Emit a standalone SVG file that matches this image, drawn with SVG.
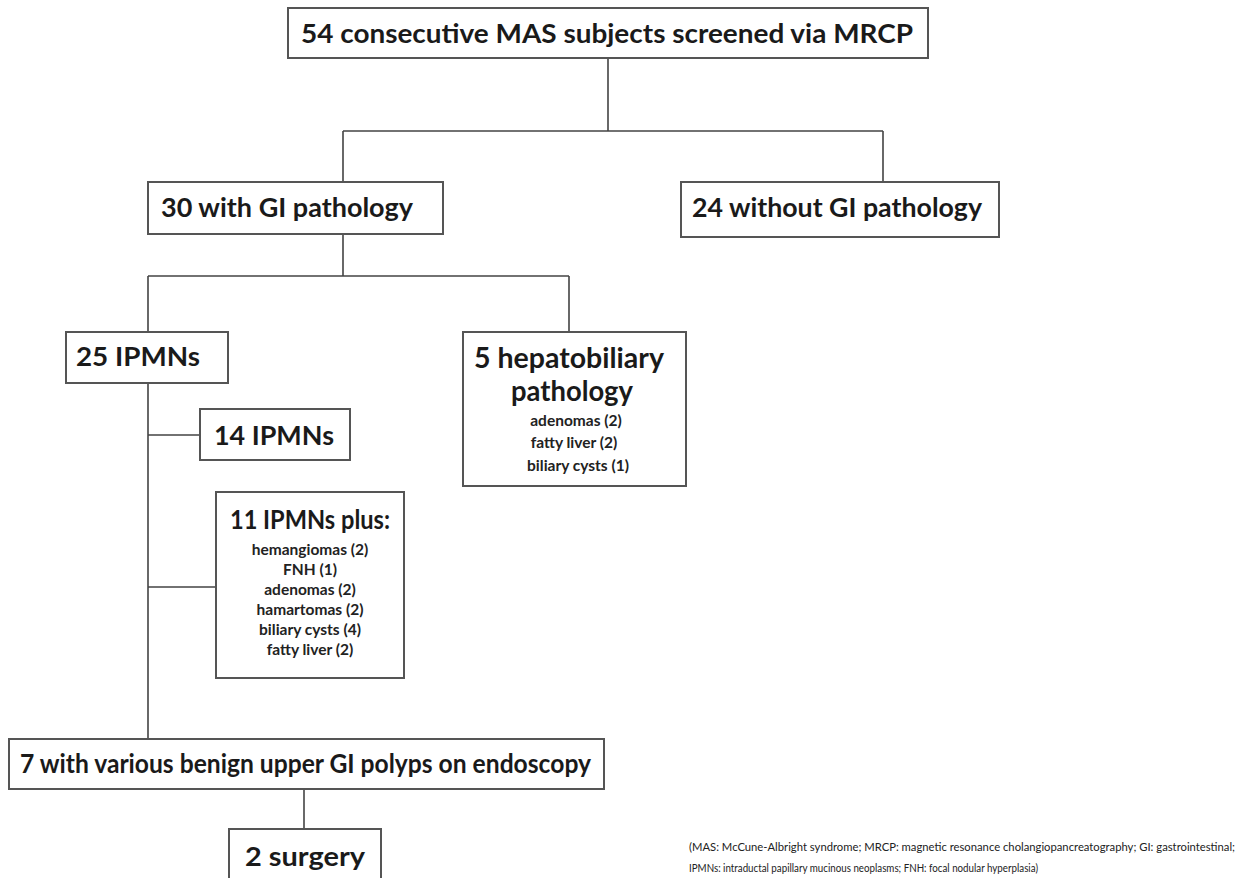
<svg xmlns="http://www.w3.org/2000/svg" width="1251" height="878" viewBox="0 0 1251 878">
<style>
.box{fill:#fff;stroke:#555;stroke-width:2}
.t{font-family:Lato,"Liberation Sans",sans-serif;font-weight:bold;fill:#1a1a1a;font-size:26px}
.s{font-family:Lato,"Liberation Sans",sans-serif;font-weight:bold;fill:#222;font-size:15.5px;text-anchor:middle}
.c{fill:none;stroke:#444;stroke-width:1.6}
.f{font-family:Lato,"Liberation Sans",sans-serif;fill:#222;font-size:11.5px}
</style>
<rect width="1251" height="878" fill="#fff"/>
<g id="connectors">
<path class="c" d="M608 58V131M343 131H883M343 131V182M883 131V182"/>
<path class="c" d="M343 234V276M148 276H569M148 276V332M569 276V332"/>
<path class="c" d="M148 383V739M148 435H200M148 587H216"/>
<path class="c" d="M304 789V829"/>
</g>
<g id="n_total">
<rect class="box" x="288" y="8" width="640" height="50"/>
<text class="t" x="301" y="43" textLength="612" lengthAdjust="spacingAndGlyphs">54 consecutive MAS subjects screened via MRCP</text>
</g>
<g id="n_gi">
<rect class="box" x="148" y="182" width="295" height="52"/>
<text class="t" x="161" y="217" textLength="252" lengthAdjust="spacingAndGlyphs">30 with GI pathology</text>
</g>
<g id="n_nogi">
<rect class="box" x="681" y="182" width="318" height="55"/>
<text class="t" x="692" y="217" textLength="290" lengthAdjust="spacingAndGlyphs">24 without GI pathology</text>
</g>
<g id="n_ipmn25">
<rect class="box" x="66" y="332" width="162" height="51"/>
<text class="t" x="76" y="366" textLength="124" lengthAdjust="spacingAndGlyphs">25 IPMNs</text>
</g>
<g id="n_hepato">
<rect class="box" x="463" y="332" width="223" height="154"/>
<text class="t" x="474" y="368" textLength="190" lengthAdjust="spacingAndGlyphs" style="font-size:28px">5 hepatobiliary</text>
<text class="t" x="511" y="401" textLength="122" lengthAdjust="spacingAndGlyphs" style="font-size:28px">pathology</text>
<text class="s" x="576" y="426">adenomas (2)</text>
<text class="s" x="574" y="448">fatty liver (2)</text>
<text class="s" x="578" y="471">biliary cysts (1)</text>
</g>
<g id="n_ipmn14">
<rect class="box" x="200" y="409" width="150" height="51"/>
<text class="t" x="214" y="445" textLength="120" lengthAdjust="spacingAndGlyphs">14 IPMNs</text>
</g>
<g id="n_ipmn11">
<rect class="box" x="216" y="492" width="188" height="186"/>
<text class="t" x="310" y="529" text-anchor="middle" textLength="160" lengthAdjust="spacingAndGlyphs">11 IPMNs plus:</text>
<text class="s" x="310" y="555">hemangiomas (2)</text>
<text class="s" x="310" y="575">FNH (1)</text>
<text class="s" x="310" y="595">adenomas (2)</text>
<text class="s" x="310" y="615">hamartomas (2)</text>
<text class="s" x="310" y="635">biliary cysts (4)</text>
<text class="s" x="310" y="655">fatty liver (2)</text>
</g>
<g id="n_polyps">
<rect class="box" x="9" y="739" width="595" height="50"/>
<text class="t" x="20" y="773" textLength="571" lengthAdjust="spacingAndGlyphs">7 with various  benign upper  GI polyps on endoscopy</text>
</g>
<g id="n_surgery">
<rect class="box" x="229" y="829" width="152" height="60"/>
<text class="t" x="245" y="866" textLength="120" lengthAdjust="spacingAndGlyphs">2 surgery</text>
</g>
<g id="footnote">
<text class="f" x="689" y="851" textLength="546" lengthAdjust="spacingAndGlyphs">(MAS: McCune-Albright syndrome; MRCP: magnetic resonance cholangiopancreatography; GI: gastrointestinal;</text>
<text class="f" x="689" y="872" textLength="349" lengthAdjust="spacingAndGlyphs">IPMNs: intraductal papillary mucinous neoplasms; FNH: focal nodular hyperplasia)</text>
</g>
</svg>
